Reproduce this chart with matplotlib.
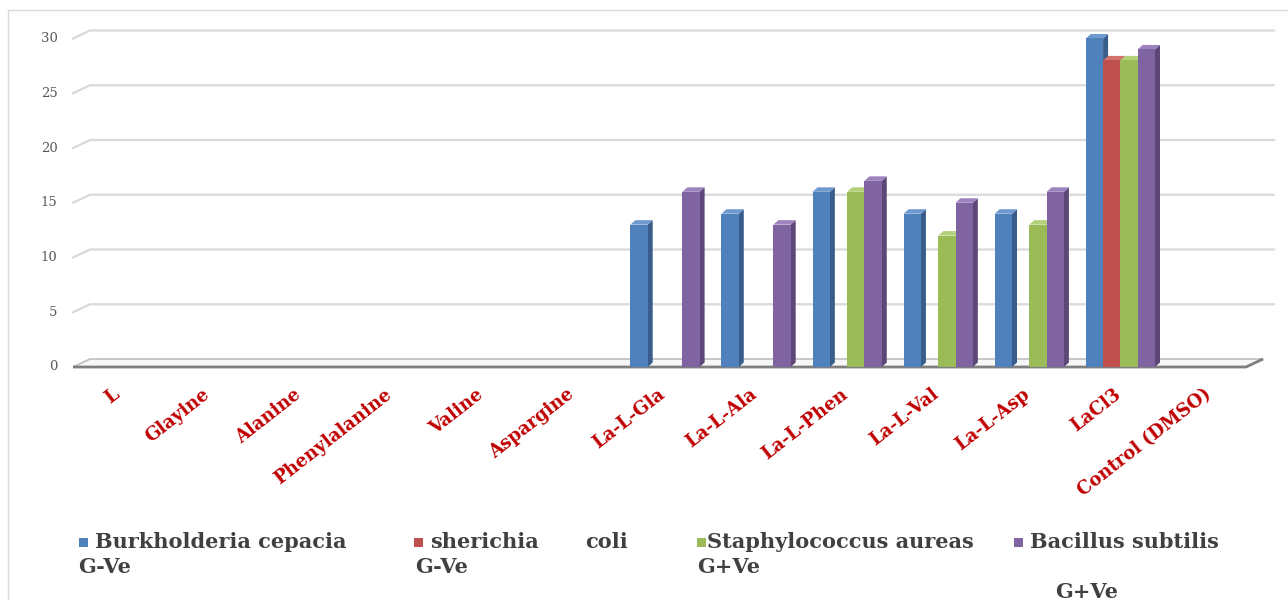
import numpy as np
import matplotlib.pyplot as plt
from matplotlib.patches import Polygon, Rectangle

# Категорії та значення зон інгібування
categories = ['L', 'Glayine', 'Alanine', 'Phenylalanine', 'Valine', 'Aspargine',
              'La-L-Gla', 'La-L-Ala', 'La-L-Phen', 'La-L-Val', 'La-L-Asp',
              'LaCl3', 'Control (DMSO)']
burkholderia = [0, 0, 0, 0, 0, 0, 13, 14, 16, 14, 14, 30, 0]
escherichia = [0, 0, 0, 0, 0, 0, 0, 0, 0, 0, 0, 28, 0]
staphylococcus = [0, 0, 0, 0, 0, 0, 0, 0, 16, 12, 13, 28, 0]
bacillus = [0, 0, 0, 0, 0, 0, 16, 13, 17, 15, 16, 29, 0]
y_ticks = [0, 5, 10, 15, 20, 25, 30]

series = [burkholderia, escherichia, staphylococcus, bacillus]
front = ['#4F81BD', '#C0504D', '#9BBB59', '#8064A2']
side = ['#385D8A', '#8C3836', '#71893F', '#5C4776']
top = ['#6F9AD0', '#D3716E', '#B3D07A', '#9C83BE']

W, H = 1288, 600
fig = plt.figure(figsize=(W / 100, H / 100), dpi=100)

# Осі: 0 на y=367 px, 10.95 px на одиницю
ppu = 10.95
ymin, ymax = -0.5, 32
x0px, x1px = 73, 1257
ax_bottom = 367 + (0 - ymin) * ppu
ax_top = 367 - ymax * ppu
ax = fig.add_axes([x0px / W, (H - ax_bottom) / H, (x1px - x0px) / W, (ax_bottom - ax_top) / H])
ax.set_xlim(-0.5, len(categories) - 0.5)
ax.set_ylim(ymin, ymax)
ax.axis('off')

# Зсув задньої стінки та глибина стовпців
cat_px = (x1px - x0px) / len(categories)
bdx, bdy = 17 / cat_px, 8 / ppu
ddx, ddy = 5 / cat_px, 4.5 / ppu
xl, xr = -0.5, len(categories) - 0.5

# Лінії сітки на задній стінці
for v in y_ticks[1:]:
    ax.plot([xl, xl + bdx, xr + bdx], [v, v + bdy, v + bdy], color='#D9D9D9',
            lw=1.6, clip_on=False, zorder=1)
for v in y_ticks:
    ax.text(xl - 0.17, v, str(v), ha='right', va='center', fontsize=9.5,
            color='#595959', family='DejaVu Serif')

# Підлога
floor = Polygon([[xl, 0], [xr - 0.12, 0], [xr - 0.12 + bdx, bdy], [xl + bdx, bdy]],
                closed=True, facecolor='#F7F7F7', edgecolor='#BFBFBF', lw=1.2,
                clip_on=False, zorder=2)
ax.add_patch(floor)
ax.plot([xl, xr - 0.12, xr - 0.12 + bdx], [0, 0, bdy], color='#7F7F7F', lw=2,
        clip_on=False, zorder=3, solid_capstyle='butt')

# Стовпці з бічною та верхньою гранями
bw = 0.19
idx = np.arange(len(categories))
for i in idx:
    for k, vals in enumerate(series):
        v = vals[i]
        if v <= 0:
            continue
        xs = i + (k - 1.5) * bw - bw / 2
        xe = xs + bw
        ax.add_patch(Polygon([[xe, 0], [xe + ddx, ddy], [xe + ddx, v + ddy], [xe, v]],
                             closed=True, facecolor=side[k], edgecolor='none', zorder=4))
        ax.add_patch(Polygon([[xs, v], [xe, v], [xe + ddx, v + ddy], [xs + ddx, v + ddy]],
                             closed=True, facecolor=top[k], edgecolor='none', zorder=4))
        ax.bar(xs, v, width=bw, align='edge', color=front[k], edgecolor='none', zorder=4)

# Підписи категорій
for i, name in enumerate(categories):
    ax.text(i - 0.02, -2.3, name, rotation=38, rotation_mode='anchor', ha='right',
            va='center', fontsize=13, fontweight='bold', color='#C00000',
            family='DejaVu Serif')

# Легенда
legend_items = [
    (79, front[0], [(95, 'Burkholderia cepacia')], [(78, 567, 'G-Ve')]),
    (414, front[1], [(430, 'sherichia'), (585, 'coli')], [(415, 567, 'G-Ve')]),
    (697, front[2], [(707, 'Staphylococcus aureas')], [(697, 567, 'G+Ve')]),
    (1014, front[3], [(1030, 'Bacillus subtilis')], [(1055, 592, 'G+Ve')]),
]
for mx, col, first, second in legend_items:
    fig.patches.append(Rectangle((mx / W, (H - 547) / H), 9 / W, 9 / H,
                                 transform=fig.transFigure, facecolor=col,
                                 edgecolor='none'))
    for tx, s in first:
        fig.text(tx / W, (H - 542) / H, s, ha='left', va='center', fontsize=15,
                 fontweight='bold', color='#404040', family='DejaVu Serif')
    for tx, ty, s in second:
        fig.text(tx / W, (H - ty) / H, s, ha='left', va='center', fontsize=15,
                 fontweight='bold', color='#404040', family='DejaVu Serif')

# Рамка області діаграми
fig.patches.append(Rectangle((8 / W, -0.01), 1.1, (H - 10) / H + 0.01,
                             transform=fig.transFigure, facecolor='none',
                             edgecolor='#D9D9D9', lw=1))

fig.savefig('out.png', dpi=100)
